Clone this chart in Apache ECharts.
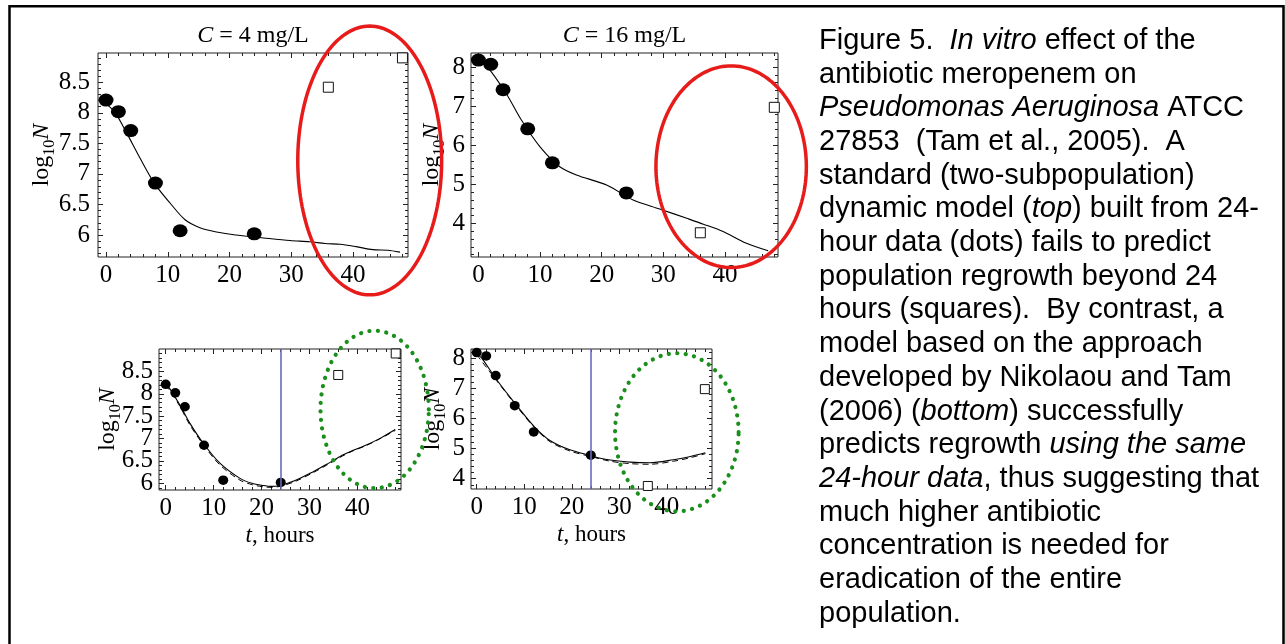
<!DOCTYPE html>
<html>
<head>
<meta charset="utf-8">
<title>Meropenem vs Pseudomonas aeruginosa</title>
<script src="https://cdn.jsdelivr.net/npm/echarts@6/dist/echarts.min.js"></script>
<style>
  html, body { margin: 0; padding: 0; background: #fff; }
  #chart { width: 1285px; height: 644px; }
</style>
</head>
<body>
<div id="chart"></div>
<script>
  // sampling times, hours
  const dotHours = [0, 2, 4, 8, 12, 24];
  const squareHours = [36, 48];

  // C = 4 mg/L, log10 N
  const dots4 = [8.21, 8.02, 7.71, 6.85, 6.07, 6.02];
  const squares4 = [8.42, 8.9];
  // C = 16 mg/L
  const dots16 = [8.18, 8.07, 7.42, 6.42, 5.55, 4.78];
  const squares16 = [3.76, 6.97];

  // model curves, [t, log10 N]
  const standard4 = [[0, 8.15], [1.5, 8.0], [3.4, 7.66], [5.5, 7.26], [7.8, 6.85], [10.4, 6.52], [12.8, 6.25],
    [15.2, 6.12], [17.9, 6.05], [21, 6.0], [24.9, 5.96], [29.8, 5.91], [33, 5.89], [35.5, 5.86], [37.9, 5.85],
    [40.5, 5.81], [43.2, 5.76], [45.6, 5.75], [47.6, 5.72]];
  const standard16 = [[0, 8.2], [1.5, 8.0], [4.6, 7.3], [7, 6.64], [10, 5.96], [13.2, 5.45], [15.9, 5.24],
    [20.8, 4.98], [25.1, 4.6], [29.4, 4.37], [33.8, 4.13], [36.5, 3.98], [39.7, 3.79], [43.5, 3.49], [47, 3.3]];
  const nikolaou4 = [[0, 8.22], [0.5, 8.17], [2.9, 7.76], [5, 7.35], [7.8, 6.9], [11.3, 6.45], [15.5, 6.11],
    [18, 6.0], [20.4, 5.95], [22, 5.93], [23.8, 5.95], [27, 6.06], [30.8, 6.26], [33.5, 6.42], [36.4, 6.6],
    [39, 6.73], [42, 6.86], [45, 7.02], [47.9, 7.2]];
  const nikolaou4Dash = [[0, 8.2], [2.9, 7.73], [5, 7.31], [7.8, 6.87], [11.3, 6.41], [15.5, 6.07], [18, 5.97],
    [20.4, 5.92], [22, 5.91], [23.8, 5.93], [27, 6.04], [30.8, 6.24], [33.5, 6.4], [36.4, 6.58], [39, 6.72],
    [42, 6.85], [45, 7.01], [47.9, 7.18]];
  const nikolaou16 = [[0, 8.13], [1.05, 8.0], [4.2, 7.28], [8.3, 6.45], [12.1, 5.73], [15.4, 5.27], [19.6, 4.96],
    [24.2, 4.76], [26, 4.68], [28.1, 4.62], [32.3, 4.55], [36.5, 4.53], [41.4, 4.63], [44.5, 4.72], [48.1, 4.86]];
  const nikolaou16Dash = [[0, 8.11], [4.2, 7.25], [8.3, 6.42], [12.1, 5.7], [15.4, 5.23], [19.6, 4.92], [24.2, 4.73],
    [28.1, 4.58], [32.3, 4.5], [36.5, 4.48], [41.4, 4.58], [44.5, 4.68], [48.1, 4.83]];

  // tick labels
  const xTicks = [0, 10, 20, 30, 40];
  const yTicks4 = [6, 6.5, 7, 7.5, 8, 8.5];
  const yTicks16 = [4, 5, 6, 7, 8];

  // highlight rings: [centre t, centre log10 N, half width, half height]
  const ringTop4 = [42.7, 7.22, 11.65, 2.2];
  const ringTop16 = [41.0, 5.45, 12.2, 2.58];
  const ringBottom4 = [43.6, 7.65, 11.3, 1.76];
  const ringBottom16 = [42.1, 5.54, 13.0, 2.62];

  const caption = [
    'Figure 5.  {i|In vitro} effect of the',
    'antibiotic meropenem on',
    '{i|Pseudomonas Aeruginosa} ATCC',
    '27853  (Tam et al., 2005).  A',
    'standard (two-subpopulation)',
    'dynamic model ({i|top}) built from 24-',
    'hour data (dots) fails to predict',
    'population regrowth beyond 24',
    'hours (squares).  By contrast, a',
    'model based on the approach',
    'developed by Nikolaou and Tam',
    '(2006) ({i|bottom}) successfully',
    'predicts regrowth {i|using the same}',
    '{i|24-hour data}, thus suggesting that',
    'much higher antibiotic',
    'concentration is needed for',
    'eradication of the entire',
    'population.'
  ];

  const serif = 'Liberation Serif';
  const sans = 'Liberation Sans';

  function steps(a, b, s) {
    const out = [];
    for (let v = a; v <= b + 1e-9; v += s) out.push(+v.toFixed(2));
    return out;
  }
  const xMinor = steps(0, 48, 2);

  const panels = [
    { grid: { left: 98, top: 53, width: 310, height: 204 }, x: [-1.3, 48.9], y: [5.64, 8.98],
      yTicks: yTicks4, yMinor: steps(5.7, 8.9, 0.1), title: '{i|C} = 4 mg/L', yGap: 40, yMargin: 8 },
    { grid: { left: 471, top: 53, width: 307, height: 204 }, x: [-1.2, 48.6], y: [3.14, 8.36],
      yTicks: yTicks16, yMinor: steps(3.2, 8.2, 0.2), title: '{i|C} = 16 mg/L', yGap: 23, yMargin: 6 },
    { grid: { left: 159, top: 349, width: 242, height: 141 }, x: [-1.4, 49.1], y: [5.85, 9.0],
      yTicks: yTicks4, yMinor: steps(5.9, 8.9, 0.1), xName: '{i|t}, hours', yGap: 35, yMargin: 6 },
    { grid: { left: 471, top: 349, width: 241, height: 140 }, x: [-1.2, 49.5], y: [3.66, 8.3],
      yTicks: yTicks16, yMinor: steps(3.8, 8.2, 0.2), xName: '{i|t}, hours', yGap: 15, yMargin: 6 }
  ];

  const labelFont = {
    fontFamily: serif, fontSize: 25, color: '#000',
    hideOverlap: false, showMinLabel: true, showMaxLabel: true
  };
  const nameRich = {
    i: { fontFamily: serif, fontSize: 24, fontStyle: 'italic', color: '#000' },
    a: { fontFamily: serif, fontSize: 24, color: '#000', lineHeight: 32, verticalAlign: 'middle' },
    s: { fontFamily: serif, fontSize: 16, color: '#000', lineHeight: 16, verticalAlign: 'bottom' },
    n: { fontFamily: serif, fontSize: 24, fontStyle: 'italic', color: '#000', lineHeight: 32, verticalAlign: 'middle' }
  };
  const xNameRich = {
    i: { fontFamily: serif, fontSize: 23, fontStyle: 'italic', color: '#000' }
  };

  function tick(vals, len) {
    return { show: true, inside: true, length: len, customValues: vals, lineStyle: { color: '#222', width: 1 } };
  }

  const grids = [], xAxes = [], yAxes = [], series = [];

  panels.forEach((p, gi) => {
    grids.push(Object.assign({ show: true, borderColor: '#222', borderWidth: 1, outerBoundsMode: 'none', containLabel: false }, p.grid));
    const bx = { gridIndex: gi, type: 'value', min: p.x[0], max: p.x[1], axisLine: { show: false, onZero: false },
      splitLine: { show: false }, axisLabel: { show: false } };
    const by = { gridIndex: gi, type: 'value', min: p.y[0], max: p.y[1], axisLine: { show: false, onZero: false },
      splitLine: { show: false }, axisLabel: { show: false } };
    // y labels split over two axes so tightly packed ones are not dropped
    const yEven = p.yTicks.filter((v, i) => i % 2 === 0);
    const yOdd = p.yTicks.filter((v, i) => i % 2 === 1);

    xAxes.push(Object.assign({}, bx, {
      position: 'bottom', axisTick: tick(xTicks, 5),
      axisLabel: Object.assign({ show: true, customValues: xTicks, margin: 6 }, labelFont),
      name: p.xName || '', nameLocation: 'middle', nameGap: 34,
      nameTextStyle: { fontFamily: serif, fontSize: 23, color: '#000', rich: xNameRich }
    }));
    xAxes.push(Object.assign({}, bx, { position: 'bottom', axisTick: tick(xMinor, 3) }));
    xAxes.push(Object.assign({}, bx, {
      position: 'top', axisTick: tick(xTicks, 5),
      name: p.title || '', nameLocation: 'middle', nameGap: 5,
      nameTextStyle: { fontFamily: serif, fontSize: 24, color: '#000', rich: nameRich }
    }));
    xAxes.push(Object.assign({}, bx, { position: 'top', axisTick: tick(xMinor, 3) }));

    yAxes.push(Object.assign({}, by, {
      position: 'left', axisTick: tick(p.yTicks, 5),
      axisLabel: Object.assign({ show: true, customValues: yEven, margin: p.yMargin }, labelFont),
      name: '{a|log}{s|10}{n|N}', nameLocation: 'middle', nameRotate: 90, nameGap: p.yGap,
      nameTextStyle: { fontFamily: serif, fontSize: 24, color: '#000', rich: nameRich }
    }));
    yAxes.push(Object.assign({}, by, {
      position: 'left', axisTick: tick(p.yMinor, 3),
      axisLabel: Object.assign({ show: true, customValues: yOdd, margin: p.yMargin }, labelFont)
    }));
    yAxes.push(Object.assign({}, by, { position: 'right', axisTick: tick(p.yTicks, 5) }));
    yAxes.push(Object.assign({}, by, { position: 'right', axisTick: tick(p.yMinor, 3) }));
  });

  function pairs(ts, vs) { return ts.map((t, i) => [t, vs[i]]); }

  function curve(gi, data, dashed, withMark) {
    const s = {
      type: 'line', xAxisIndex: 4 * gi, yAxisIndex: 4 * gi, data: data, showSymbol: false, smooth: 0.3,
      silent: true, z: 3,
      lineStyle: { color: '#000', width: dashed ? 1 : 1.1, type: dashed ? [6, 4] : 'solid' }
    };
    if (withMark) {
      s.markLine = {
        silent: true, symbol: ['none', 'none'], label: { show: false },
        lineStyle: { color: '#6a6abf', width: 1.6, type: 'solid' },
        data: [{ xAxis: 24 }]
      };
    }
    return s;
  }

  function dots(gi, vals, size) {
    return {
      type: 'scatter', xAxisIndex: 4 * gi, yAxisIndex: 4 * gi, data: pairs(dotHours, vals),
      symbol: 'circle', symbolSize: size, itemStyle: { color: '#000', opacity: 1 }, z: 4, silent: true
    };
  }

  function squares(gi, vals, size) {
    return {
      type: 'scatter', xAxisIndex: 4 * gi, yAxisIndex: 4 * gi, data: pairs(squareHours, vals),
      symbol: 'rect', symbolSize: size, z: 4, silent: true,
      itemStyle: { color: '#fff', borderColor: '#111', borderWidth: 1, opacity: 1 }
    };
  }

  function ring(gi, r, color, width, dash) {
    return {
      type: 'custom', xAxisIndex: 4 * gi, yAxisIndex: 4 * gi, data: [r], clip: false, silent: true, z: 10,
      renderItem: function (params, api) {
        const cx = api.value(0), cy = api.value(1), rx = api.value(2), ry = api.value(3);
        const pts = [];
        for (let k = 0; k < 160; k++) {
          const a = k / 160 * 2 * Math.PI;
          pts.push(api.coord([cx + rx * Math.cos(a), cy + ry * Math.sin(a)]));
        }
        return {
          type: 'polygon', shape: { points: pts },
          style: { fill: 'none', stroke: color, lineWidth: width, lineDash: dash, lineCap: 'round' }
        };
      }
    };
  }

  const red = '#e81b1b';
  const green = '#1b8f1b';

  series.push(curve(0, standard4), dots(0, dots4, [15, 13]), squares(0, squares4, 10), ring(0, ringTop4, red, 3.5, null));
  series.push(curve(1, standard16), dots(1, dots16, [15, 13]), squares(1, squares16, 10), ring(1, ringTop16, red, 3.5, null));
  series.push(curve(2, nikolaou4, false, true), curve(2, nikolaou4Dash, true), dots(2, dots4, [10, 9.5]),
    squares(2, squares4, 9), ring(2, ringBottom4, green, 4.2, [0.1, 8.4]));
  series.push(curve(3, nikolaou16, false, true), curve(3, nikolaou16Dash, true), dots(3, dots16, [10, 9.5]),
    squares(3, squares16, 9), ring(3, ringBottom16, green, 4.2, [0.1, 8.4]));

  const chart = echarts.init(document.getElementById('chart'));
  chart.setOption({
    animation: false,
    backgroundColor: '#fff',
    title: {
      text: caption.join('\n'),
      left: 814, top: 19,
      textStyle: {
        fontFamily: sans, fontSize: 29, fontWeight: 'normal', color: '#000', lineHeight: 33.7,
        rich: { i: { fontFamily: sans, fontSize: 29, fontStyle: 'italic', color: '#000', lineHeight: 33.7 } }
      }
    },
    graphic: [{
      type: 'rect', silent: true, z: 100,
      shape: { x: 9.5, y: 6.2, width: 1274, height: 700 },
      style: { fill: 'none', stroke: '#000', lineWidth: 2.5 }
    }],
    grid: grids,
    xAxis: xAxes,
    yAxis: yAxes,
    series: series
  });
</script>
</body>
</html>
